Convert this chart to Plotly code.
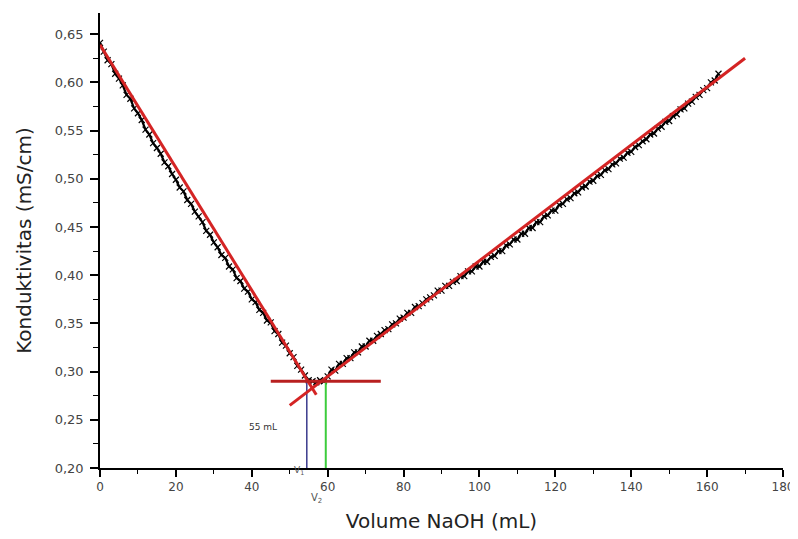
import plotly.graph_objects as go

# ---- data ----
vol_left = list(range(0, 61))
cond_left = [0.641, 0.632, 0.623, 0.619, 0.609, 0.604, 0.597, 0.587, 0.583, 0.573,
             0.568, 0.561, 0.551, 0.546, 0.537, 0.532, 0.526, 0.517, 0.513, 0.505,
             0.499, 0.491, 0.487, 0.478, 0.474, 0.466, 0.461, 0.455, 0.446, 0.442,
             0.434, 0.429, 0.421, 0.418, 0.409, 0.406, 0.397, 0.394, 0.386, 0.383,
             0.375, 0.372, 0.364, 0.361, 0.353, 0.351, 0.342, 0.339, 0.330, 0.327,
             0.319, 0.315, 0.306, 0.302, 0.296, 0.291, 0.290, 0.289, 0.291, 0.290,
             0.295]
vol_right = list(range(61, 164))
cond_right = [0.302, 0.301, 0.308, 0.308, 0.314, 0.314, 0.320, 0.320, 0.326, 0.326,
              0.332, 0.332, 0.337, 0.339, 0.343, 0.344, 0.349, 0.350, 0.355, 0.356,
              0.361, 0.361, 0.367, 0.368, 0.371, 0.375, 0.377, 0.379, 0.384, 0.384,
              0.389, 0.389, 0.393, 0.394, 0.399, 0.399, 0.404, 0.404, 0.409, 0.409,
              0.414, 0.414, 0.419, 0.420, 0.425, 0.425, 0.431, 0.432, 0.437, 0.437,
              0.443, 0.443, 0.449, 0.449, 0.455, 0.455, 0.461, 0.462, 0.467, 0.467,
              0.473, 0.474, 0.479, 0.480, 0.485, 0.486, 0.491, 0.492, 0.497, 0.498,
              0.503, 0.504, 0.509, 0.510, 0.515, 0.516, 0.521, 0.522, 0.527, 0.528,
              0.533, 0.535, 0.539, 0.541, 0.546, 0.547, 0.552, 0.554, 0.559, 0.560,
              0.565, 0.567, 0.572, 0.573, 0.578, 0.580, 0.585, 0.587, 0.592, 0.594,
              0.600, 0.602, 0.609]

vol = vol_left + vol_right
cond = cond_left + cond_right

fit1_x = [0, 57]
fit1_y = [0.639, 0.276]
fit2_x = [50, 170]
fit2_y = [0.265, 0.625]
horiz_x = [45, 74]
horiz_y = [0.29, 0.29]
v1_x = [54.5, 54.5]
v1_y = [0.20, 0.29]
v2_x = [59.5, 59.5]
v2_y = [0.20, 0.29]

y_tickvals = [0.20, 0.25, 0.30, 0.35, 0.40, 0.45, 0.50, 0.55, 0.60, 0.65]
y_ticktext = ["0,20", "0,25", "0,30", "0,35", "0,40", "0,45", "0,50", "0,55", "0,60", "0,65"]
x_tickvals = [0, 20, 40, 60, 80, 100, 120, 140, 160, 180]
x_ticktext = ["0", "20", "40", "60", "80", "100", "120", "140", "160", "180"]

FONT = "DejaVu Sans"

fig = go.Figure()
fig.add_trace(go.Scatter(x=vol, y=cond, mode="lines+markers",
                         line=dict(color="black", width=2.2),
                         marker=dict(symbol="x-thin", size=6, color="black",
                                     line=dict(color="black", width=1.2)),
                         showlegend=False))
fig.add_trace(go.Scatter(x=v1_x, y=v1_y, mode="lines",
                         line=dict(color="#3a3a8c", width=1.5), showlegend=False))
fig.add_trace(go.Scatter(x=v2_x, y=v2_y, mode="lines",
                         line=dict(color="#3ccc3c", width=2), showlegend=False))
fig.add_trace(go.Scatter(x=fit1_x, y=fit1_y, mode="lines",
                         line=dict(color="#d42424", width=3), showlegend=False))
fig.add_trace(go.Scatter(x=fit2_x, y=fit2_y, mode="lines",
                         line=dict(color="#d42424", width=3), showlegend=False))
fig.add_trace(go.Scatter(x=horiz_x, y=horiz_y, mode="lines",
                         line=dict(color="#b82020", width=3), showlegend=False))

fig.add_annotation(x=43, y=0.243, text="55 mL", showarrow=False,
                   font=dict(family=FONT, size=9, color="#333"))
fig.add_annotation(x=52.4, xref="x", y=-0.022, yref="paper", text="V<sub>1</sub>",
                   showarrow=False, font=dict(family=FONT, size=9, color="#555"))
fig.add_annotation(x=57.0, xref="x", y=-0.085, yref="paper", text="V<sub>2</sub>",
                   showarrow=False, font=dict(family=FONT, size=10, color="#555"))

fig.update_layout(
    width=798, height=539,
    margin=dict(l=92, r=23, t=5, b=79),
    paper_bgcolor="white", plot_bgcolor="white",
    font=dict(family=FONT, color="#222"),
    xaxis=dict(range=[0, 180], showgrid=False, zeroline=False, automargin=False,
               showline=True, linecolor="black", linewidth=1.5,
               ticks="outside", ticklen=7, tickwidth=1.5, tickcolor="black",
               tickvals=x_tickvals, ticktext=x_ticktext,
               tickfont=dict(family=FONT, size=12, color="#444"),
               minor=dict(ticks="outside", ticklen=4, tickwidth=1, tickcolor="black", dtick=10, tick0=0),
               title=dict(text="Volume NaOH (mL)", font=dict(family=FONT, size=20, color="#222"), standoff=21)),
    yaxis=dict(range=[0.20, 0.672], showgrid=False, zeroline=False, automargin=False,
               showline=True, linecolor="black", linewidth=1.5,
               ticks="outside", ticklen=8, tickwidth=1.5, tickcolor="black",
               ticklabelstandoff=4,
               tickvals=y_tickvals, ticktext=y_ticktext,
               tickfont=dict(family=FONT, size=13, color="#444"),
               minor=dict(ticks="outside", ticklen=5, tickwidth=1, tickcolor="black", dtick=0.025, tick0=0.2),
               title=dict(text="Konduktivitas (mS/cm)", font=dict(family=FONT, size=20, color="#222"), standoff=18)),
)

fig.write_html("out.html")
